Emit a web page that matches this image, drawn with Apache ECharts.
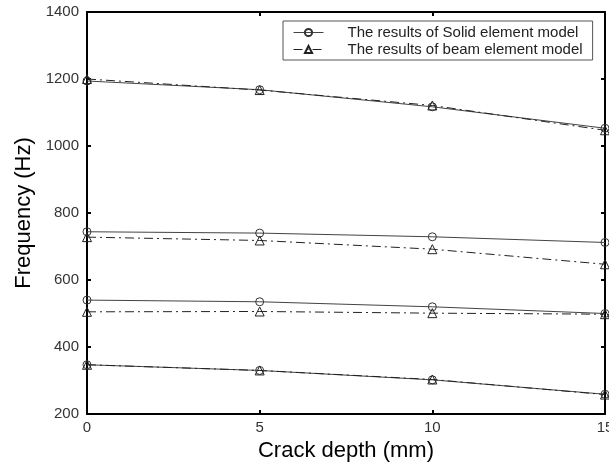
<!DOCTYPE html>
<html>
<head>
<meta charset="utf-8">
<script src="https://cdn.jsdelivr.net/npm/echarts@6/dist/echarts.min.js"></script>
<style>html,body{margin:0;padding:0;background:#fff;}#c{width:609px;height:467px;}</style>
</head>
<body>
<div id="c"></div>
<script>
const depth = [0, 5, 10, 15];
const solid1 = [347, 330, 302, 259];
const beam1 = [347, 330, 303, 258];
const solid2 = [540, 535, 520, 500];
const beam2 = [505, 506, 501, 498];
const solid3 = [744, 740, 729, 712];
const beam3 = [728, 718, 692, 647];
const solid4 = [1194, 1168, 1117, 1053];
const beam4 = [1200, 1167, 1121, 1047];
const yTicks = [200, 400, 600, 800, 1000, 1200, 1400];
const xTicks = [0, 5, 10, 15];

const SOLID = 'The results of Solid element model';
const BEAM = 'The results of beam element model';
const font = 'Liberation Sans, Arial, sans-serif';

function pts(vals) { return depth.map((d, i) => [d, vals[i]]); }
function solidSeries(vals) {
  return {
    name: SOLID, type: 'line', data: pts(vals), xAxisIndex: 0, yAxisIndex: 0,
    symbol: 'circle', symbolSize: 8,
    itemStyle: { color: 'rgba(255,255,255,0)', borderColor: '#333', borderWidth: 1 },
    lineStyle: { color: '#444', width: 1, type: 'solid' },
    emphasis: { disabled: true }, clip: false, z: 3
  };
}
function beamSeries(vals) {
  return {
    name: BEAM, type: 'line', data: pts(vals), xAxisIndex: 0, yAxisIndex: 0,
    symbol: 'triangle', symbolSize: 9,
    itemStyle: { color: 'rgba(255,255,255,0)', borderColor: '#222', borderWidth: 1 },
    lineStyle: { color: '#222', width: 1, type: [9, 4, 2, 4] },
    emphasis: { disabled: true }, clip: false, z: 3
  };
}

const chart = echarts.init(document.getElementById('c'), null, { renderer: 'canvas' });
const axisLine = { show: true, onZero: false, lineStyle: { color: '#000', width: 2 } };
const tick = { show: true, inside: true, length: 4, lineStyle: { color: '#000', width: 2 } };
chart.setOption({
  backgroundColor: '#fff',
  animation: false,
  textStyle: { fontFamily: font },
  grid: { left: 87, right: 4, top: 12, bottom: 53, containLabel: false, outerBoundsMode: 'none' },
  legend: {
    orient: 'vertical', left: 283, top: 21,
    data: [SOLID, BEAM],
    padding: [4, 10, 3, 10], itemGap: 2, itemWidth: 30, itemHeight: 9,
    borderColor: '#555', borderWidth: 1, backgroundColor: '#fff',
    lineStyle: { width: 1 },
    textStyle: { fontFamily: font, fontSize: 15, lineHeight: 15, color: '#222', padding: [0, 0, 0, 19] },
    selectedMode: false, z: 10
  },
  xAxis: [
    {
      type: 'value', min: xTicks[0], max: xTicks[xTicks.length - 1], interval: 5,
      position: 'bottom',
      name: 'Crack depth (mm)', nameLocation: 'middle', nameGap: 26,
      nameTextStyle: { fontFamily: font, fontSize: 22, color: '#000' },
      axisLine: axisLine, axisTick: tick,
      axisLabel: { fontFamily: font, fontSize: 15, color: '#333', margin: 6 },
      splitLine: { show: false }
    },
    {
      type: 'value', min: xTicks[0], max: xTicks[xTicks.length - 1], interval: 5,
      position: 'top',
      axisLine: axisLine, axisTick: tick, axisLabel: { show: false }, splitLine: { show: false }
    }
  ],
  yAxis: [
    {
      type: 'value', min: yTicks[0], max: yTicks[yTicks.length - 1], interval: 200,
      position: 'left',
      name: 'Frequency (Hz)', nameLocation: 'middle', nameGap: 50,
      nameTextStyle: { fontFamily: font, fontSize: 22, color: '#000' },
      axisLine: axisLine, axisTick: tick,
      axisLabel: { fontFamily: font, fontSize: 15, color: '#333', margin: 8, formatter: v => String(v) },
      splitLine: { show: false }
    },
    {
      type: 'value', min: yTicks[0], max: yTicks[yTicks.length - 1], interval: 200,
      position: 'right',
      axisLine: axisLine, axisTick: tick, axisLabel: { show: false }, splitLine: { show: false }
    }
  ],
  series: [
    solidSeries(solid1), beamSeries(beam1),
    solidSeries(solid2), beamSeries(beam2),
    solidSeries(solid3), beamSeries(beam3),
    solidSeries(solid4), beamSeries(beam4)
  ]
});
</script>
</body>
</html>
